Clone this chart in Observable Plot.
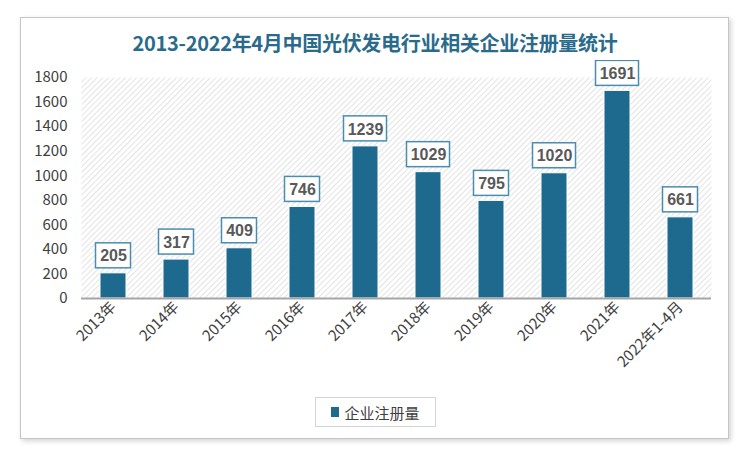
<!DOCTYPE html>
<html>
<head>
<meta charset="utf-8">
<script src="https://cdn.jsdelivr.net/npm/d3@7"></script>
<script src="https://cdn.jsdelivr.net/npm/@observablehq/plot@0.6"></script>
<style>
  html, body { margin: 0; padding: 0; background: #ffffff; }
  #page { position: relative; width: 750px; height: 456px; overflow: hidden; font-family: "Noto Sans CJK SC", "Noto Sans", sans-serif; }
  #frame { position: absolute; left: 20px; top: 17px; width: 707px; height: 420px; border: 1px solid #c6c6c6; box-shadow: 2px 2px 5px rgba(0,0,0,0.18); background: #fff; }
  #title { position: absolute; left: 0; width: 750px; top: 29px; text-align: center; font-size: 20px; font-weight: bold; color: #2a6b8c; line-height: 28px; letter-spacing: -0.3px; }
  #chart { position: absolute; left: 0; top: 60px; }
  #legend { position: absolute; left: 315px; top: 397px; width: 121px; height: 30px; border: 1px solid #d4d4d4; box-sizing: border-box; display: flex; align-items: center; justify-content: center; font-size: 15px; color: #404040; background: #fff; }
  #legend .sw { display: inline-block; width: 8px; height: 10px; background: #1d6a8e; margin-right: 5px; }
</style>
</head>
<body>
<div id="page">
  <div id="frame"></div>
  <div id="title">2013-2022年4月中国光伏发电行业相关企业注册量统计</div>
  <div id="chart"></div>
  <div id="legend"><span class="sw"></span>企业注册量</div>
</div>
<script>
const categories = ["2013年", "2014年", "2015年", "2016年", "2017年", "2018年", "2019年", "2020年", "2021年", "2022年1-4月"];
const values = [205, 317, 409, 746, 1239, 1029, 795, 1020, 1691, 661];
const yTicks = [0, 200, 400, 600, 800, 1000, 1200, 1400, 1600, 1800];

const data = categories.map((c, i) => ({category: c, value: values[i]}));
const short = data.filter(d => String(d.value).length <= 3);
const long = data.filter(d => String(d.value).length > 3);

const barColor = "#1d6a8e";
const font = "'Noto Sans CJK SC', 'Noto Sans', sans-serif";

const plot = Plot.plot({
  width: 750,
  height: 328,
  marginLeft: 81,
  marginRight: 39,
  marginTop: 17,
  marginBottom: 90,
  style: { fontFamily: font, color: "#404040", background: "transparent" },
  x: { domain: categories, paddingInner: 0.59, paddingOuter: 0.295, label: null },
  y: { domain: [0, 1800], label: null },
  marks: [
    Plot.frame({ fill: "url(#hatch)", stroke: "none" }),
    Plot.axisY({ ticks: yTicks, tickFormat: d => String(d), tickSize: 0, tickPadding: 14, fontSize: 15, fill: "#404040", label: null }),
    Plot.axisX({ tickSize: 0, tickPadding: 6, tickRotate: -45, fontSize: 15, fill: "#404040", label: null }),
    Plot.barY(data, { x: "category", y: "value", fill: barColor, stroke: "#ffffff", strokeWidth: 1 }),
    Plot.ruleY([0], { stroke: "#a6a6a6", strokeWidth: 2 }),
    Plot.barY(short, { x: "category", y1: "value", y2: "value", fill: "#ffffff", stroke: "#4a8db0", strokeWidth: 1.5, insetLeft: -4.5, insetRight: -4.5, insetTop: -30, insetBottom: 5 }),
    Plot.barY(long, { x: "category", y1: "value", y2: "value", fill: "#ffffff", stroke: "#4a8db0", strokeWidth: 1.5, insetLeft: -8.5, insetRight: -8.5, insetTop: -30, insetBottom: 5 }),
    Plot.text(data, { x: "category", y: "value", text: d => String(d.value), dy: -17, fill: "#595959", fontWeight: "bold", fontSize: 16, fontFamily: "'Liberation Sans', sans-serif" })
  ]
});

// hatch pattern definition
const ns = "http://www.w3.org/2000/svg";
const defs = document.createElementNS(ns, "defs");
defs.innerHTML = `<pattern id="hatch" patternUnits="userSpaceOnUse" width="4" height="4" patternTransform="rotate(45)">
  <rect width="4" height="4" fill="#ffffff"/>
  <line x1="0" y1="0" x2="0" y2="4" stroke="#dcdcdc" stroke-width="1.6"/>
</pattern>`;
plot.insertBefore(defs, plot.firstChild);

document.getElementById("chart").appendChild(plot);
</script>
</body>
</html>
